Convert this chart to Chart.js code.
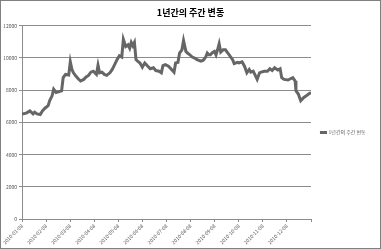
<!DOCTYPE html>
<html lang="ko">
<head>
    <meta charset="UTF-8">
    <title>1년간의 주간 변동</title>
    <style>
        html, body { margin: 0; padding: 0; background: #fff; }
        canvas { display: block; }
    </style>
</head>
<body>
    <canvas id="chart" width="381" height="249"></canvas>

    <script src="https://cdn.jsdelivr.net/npm/chart.js"></script>
    <script>
        // data: day offset from 2010-01-08, price
        const days = [0, 2, 6, 10, 14, 16, 19, 23, 26, 29, 33, 35, 38, 40, 43, 46, 50, 52, 55, 59,
            61, 63, 65, 68, 71, 74, 78, 81, 84, 87, 90, 94, 96, 98, 101, 104, 107, 111, 114, 117,
            120, 123, 126, 128, 131, 134, 136, 138, 140, 142, 144, 146, 149, 152, 155, 158, 162, 166, 169, 173,
            176, 178, 181, 185, 188, 192, 194, 197, 199, 202, 204, 207, 209, 212, 215, 218, 221, 226, 229, 232,
            234, 236, 238, 240, 243, 245, 247, 249, 251, 254, 257, 260, 263, 266, 268, 272, 274, 278, 281, 284,
            287, 289, 292, 294, 297, 300, 302, 306, 310, 313, 316, 319, 323, 326, 328, 331, 336, 339, 342, 345,
            346, 349, 352, 356, 359, 362, 365];
        const prices = [6530, 6530, 6590, 6710, 6530, 6630, 6530, 6490, 6730, 6880, 7040, 7350, 7650, 8060, 7860, 7900, 7960, 8780, 8980, 8940,
            9760, 9290, 9080, 8880, 8710, 8570, 8670, 8820, 8920, 9120, 9180, 8980, 9550, 9080, 9120, 8980, 8920, 9080, 9290, 9590,
            9900, 10140, 10060, 11160, 10710, 10820, 10610, 10960, 10760, 10960, 9900, 9800, 9690, 9430, 9690, 9530, 9330, 9390, 9220, 9180,
            9080, 9530, 9590, 9490, 9330, 9120, 9690, 9730, 10310, 10510, 11080, 10410, 10310, 10200, 10060, 10000, 9900, 9800, 9860, 10060,
            10310, 10200, 10200, 10310, 10410, 10200, 10510, 10880, 10370, 10510, 10510, 10310, 10100, 9900, 9650, 9730, 9690, 9760, 9490, 9080,
            9290, 9120, 9180, 8980, 8670, 9080, 9120, 9180, 9180, 9330, 9220, 9390, 9250, 9330, 8780, 8670, 8630, 8710, 8780, 8570,
            7960, 7760, 7350, 7550, 7650, 7760, 7860];
        const monthLabels = ['2010-01-08', '2010-02-08', '2010-03-08', '2010-04-08', '2010-05-08', '2010-06-08',
            '2010-07-08', '2010-08-08', '2010-09-08', '2010-10-08', '2010-11-08', '2010-12-08', ''];
        const yTicks = [0, 2000, 4000, 6000, 8000, 10000, 12000];
        const seriesName = '1년간의 주간 변동';

        const font = "'Noto Sans CJK KR', 'Noto Sans', sans-serif";
        const gridColor = '#8c8c8c';

        const points = days.map((d, i) => ({ x: d, y: prices[i] }));

        // fixed sizes for the axes and legend so the plot area sits where the original's does
        const layoutFix = {
            id: 'layoutFix',
            beforeLayout(chart) {
                const legend = chart.legend;
                if (legend && !legend._patched) {
                    const origFit = legend.fit;
                    legend.fit = function () {
                        origFit.call(this);
                        this.width = 70;
                    };
                    legend._patched = true;
                }
            },
            beforeDraw(chart) {
                const ctx = chart.ctx;
                ctx.save();
                ctx.fillStyle = '#fff';
                ctx.fillRect(0, 0, chart.width, chart.height);
                ctx.restore();
            },
            afterDraw(chart) {
                const ctx = chart.ctx;
                ctx.save();
                ctx.strokeStyle = '#808080';
                ctx.lineWidth = 1;
                ctx.strokeRect(0.5, 0.5, chart.width - 1, chart.height - 1);
                ctx.restore();
            }
        };

        new Chart(document.getElementById('chart'), {
            type: 'line',
            data: {
                datasets: [{
                    label: seriesName,
                    data: points,
                    borderColor: '#666666',
                    backgroundColor: '#666666',
                    borderWidth: 3,
                    pointRadius: 0,
                    tension: 0,
                    fill: false
                }]
            },
            options: {
                responsive: false,
                animation: false,
                layout: { padding: { left: 0, right: 0, top: 0, bottom: 0 } },
                plugins: {
                    title: {
                        display: true,
                        text: seriesName,
                        color: '#000',
                        font: { family: font, size: 9, weight: 'bold' },
                        padding: { top: 7, bottom: 8 }
                    },
                    legend: {
                        position: 'right',
                        // empty title only pushes the entry down a little
                        title: { display: true, text: ' ', padding: 5, font: { size: 5 } },
                        labels: {
                            usePointStyle: true,
                            pointStyle: 'line',
                            boxWidth: 12,
                            padding: 10,
                            color: '#666',
                            font: { family: font, size: 5 }
                        }
                    },
                    tooltip: { enabled: false }
                },
                scales: {
                    x: {
                        type: 'linear',
                        min: 0,
                        max: 365,
                        afterFit(scale) { scale.height = 30; },
                        afterBuildTicks(scale) {
                            scale.ticks = monthLabels.map((_, i) => ({ value: i * 365 / 12 }));
                        },
                        ticks: {
                            autoSkip: false,
                            minRotation: 45,
                            maxRotation: 45,
                            padding: 1,
                            color: '#555',
                            font: { family: font, size: 5 },
                            callback: (v, i) => monthLabels[i]
                        },
                        grid: { drawOnChartArea: false, drawTicks: true, tickLength: 3, color: gridColor },
                        border: { color: gridColor }
                    },
                    y: {
                        min: 0,
                        max: 12000,
                        afterFit(scale) { scale.width = 22; },
                        afterBuildTicks(scale) {
                            scale.ticks = yTicks.map(v => ({ value: v }));
                        },
                        ticks: {
                            padding: 2,
                            color: '#555',
                            font: { family: font, size: 5 },
                            callback: v => String(v)
                        },
                        grid: { color: gridColor, tickLength: 3 },
                        border: { color: gridColor }
                    }
                }
            },
            plugins: [layoutFix]
        });
    </script>
</body>
</html>
